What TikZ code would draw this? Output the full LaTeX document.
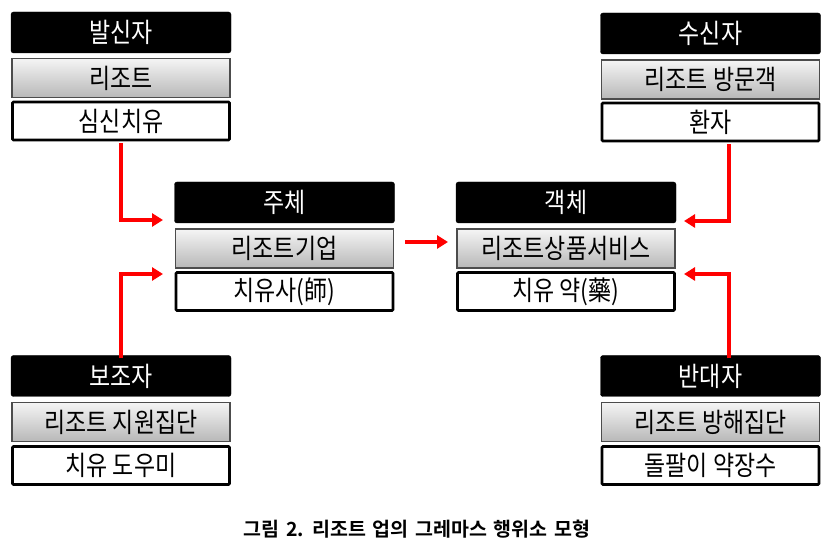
\documentclass[tikz,border=0pt]{standalone}
\usepackage{fontspec}
\newfontfamily\kr[FakeStretch=0.85]{Noto Sans CJK KR}
\newfontfamily\krb[WordSpace=1.5]{Noto Sans CJK KR Bold}
\usetikzlibrary{arrows.meta}
\begin{document}
\begin{tikzpicture}[x=1pt,y=-1pt,
  blk/.style={fill=black, draw=black, rounded corners=2.5pt, text=white, minimum width=220pt, minimum height=41pt, inner sep=0pt, font=\kr\fontsize{27}{29}\selectfont},
  gry/.style={draw=black!70, line width=1.3pt, top color=black!4, bottom color=black!28, minimum width=218pt, minimum height=39pt, inner sep=0pt, font=\kr\fontsize{27}{29}\selectfont},
  wht/.style={draw=black, fill=white, line width=2.6pt, rounded corners=1pt, minimum width=217pt, minimum height=38pt, inner sep=0pt, font=\kr\fontsize{27}{29}\selectfont},
  arr/.style={draw=red, line width=3.5pt, -{Triangle[length=11pt,width=13pt]}}]
\useasboundingbox (0,0) rectangle (836,553);
% top-left
\node[blk] (slb) at (121,32.5) {발신자};
\node[gry] (slg) at (121,78) {리조트};
\node[wht] (slw) at (121,121) {심신치유};
% top-right
\node[blk] (srb) at (710.5,33.5) {수신자};
\node[gry] (srg) at (710.5,79.5) {리조트 방문객};
\node[wht] (srw) at (710.5,122) {환자};
% middle-left
\node[blk] (mlb) at (284.5,202.5) {주체};
\node[gry] (mlg) at (284.5,248.5) {리조트기업};
\node[wht] (mlw) at (284.5,291.5) {치유사(師)};
% middle-right
\node[blk] (mrb) at (566,202.5) {객체};
\node[gry] (mrg) at (566,248.5) {리조트상품서비스};
\node[wht] (mrw) at (566,291.5) {치유 약(藥)};
% bottom-left
\node[blk] (blb) at (121,376) {보조자};
\node[gry] (blg) at (121,422) {리조트 지원집단};
\node[wht] (blw) at (121,465.5) {치유 도우미};
% bottom-right
\node[blk] (brb) at (710.5,376) {반대자};
\node[gry] (brg) at (710.5,422) {리조트 방해집단};
\node[wht] (brw) at (710.5,465.5) {돌팔이 약장수};
% arrow ends
\coordinate (a1) at (163,220);
\coordinate (a2) at (163,274);
\coordinate (a3) at (684,221);
\coordinate (a4) at (684,274);
\coordinate (m1) at (405,242);
\coordinate (m2) at (448,242);
\draw[arr] ([yshift=-2pt]slw.south) |- (a1);
\draw[arr] ([yshift=-3pt]blb.north) |- (a2);
\draw[arr] ([xshift=18.5pt,yshift=-2pt]srw.south) |- (a3);
\draw[arr] ([xshift=18.5pt,yshift=-3pt]brb.north) |- (a4);
\draw[arr] (m1) -- (m2);
% caption
\node[font=\krb\fontsize{19.5}{21}\selectfont, inner sep=0pt] (cap) at (417,529) {그림 2. 리조트 업의 그레마스 행위소 모형};
\end{tikzpicture}
\end{document}
